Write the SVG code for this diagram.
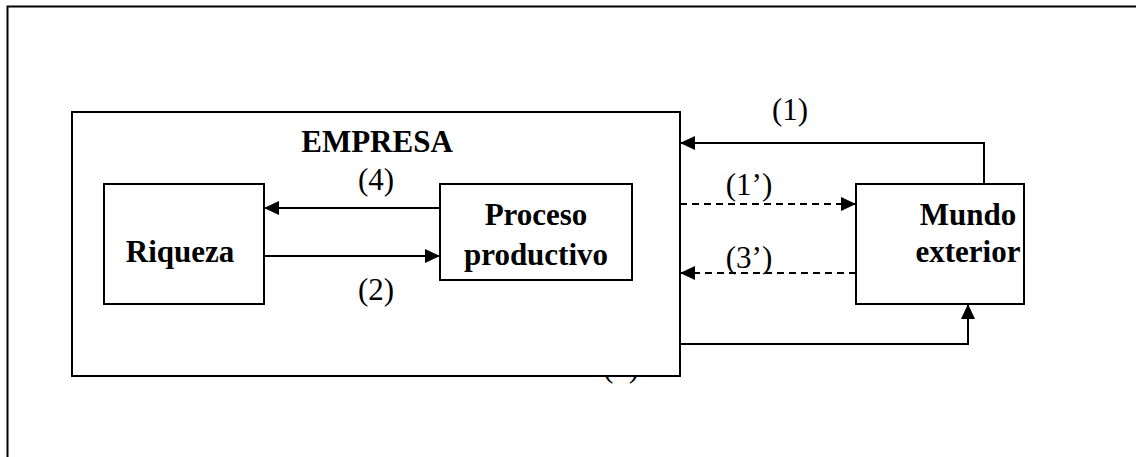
<svg xmlns="http://www.w3.org/2000/svg" width="1136" height="457" viewBox="0 0 1136 457">
  <style>
    .box { fill: #fff; stroke: #000; stroke-width: 2; }
    .frame { fill: none; stroke: #000; stroke-width: 2; }
    .title { font-family: "Liberation Serif", "Times New Roman", serif; font-weight: bold; font-size: 31px; fill: #000; text-anchor: middle; }
    .lbl { font-family: "Liberation Serif", "Times New Roman", serif; font-size: 31px; fill: #000; text-anchor: middle; }
    .link { fill: none; stroke: #000; stroke-width: 2; marker-end: url(#arrow); }
    .dashed { stroke-dasharray: 7 5; }
  </style>
  <defs>
    <marker id="arrow" markerUnits="userSpaceOnUse" markerWidth="15" markerHeight="14" refX="15" refY="7" orient="auto">
      <path d="M0,0 L15,7 L0,14 Z" fill="#000" stroke="none"/>
    </marker>
  </defs>

  <rect width="1136" height="457" fill="#fff"/>
  <!-- page frame, running past the right and bottom edges -->
  <rect class="frame" x="7.5" y="6.5" width="1140" height="470"/>

  <!-- label of flow (3), partly covered by the company box -->
  <text class="lbl" x="621" y="377">(3)</text>

  <g id="empresa">
    <rect class="box" x="72" y="112" width="608" height="264"/>
    <text class="title" x="377" y="152">EMPRESA</text>
  </g>

  <g id="riqueza">
    <rect class="box" x="104" y="184" width="160" height="120"/>
    <text class="title" x="180" y="262">Riqueza</text>
  </g>

  <g id="proceso">
    <rect class="box" x="440" y="184" width="192" height="96"/>
    <text class="title" x="536" y="225">Proceso</text>
    <text class="title" x="536" y="265">productivo</text>
  </g>

  <g id="mundo">
    <rect class="box" x="856" y="184" width="168" height="120"/>
    <text class="title" x="968" y="225">Mundo</text>
    <text class="title" x="968" y="262">exterior</text>
  </g>

  <g id="connectors">
    <path class="link" d="M984,184 V143 H680"/>
    <path class="link dashed" d="M680,204 H856"/>
    <path class="link dashed" d="M856,273 H680"/>
    <path class="link" d="M680,344 H968 V304"/>
    <path class="link" d="M440,208 H264"/>
    <path class="link" d="M264,256 H440"/>
  </g>

  <g id="labels">
    <text class="lbl" x="790" y="120">(1)</text>
    <text class="lbl" x="749" y="195">(1’)</text>
    <text class="lbl" x="749" y="268">(3’)</text>
    <text class="lbl" x="376" y="190">(4)</text>
    <text class="lbl" x="376" y="300">(2)</text>
  </g>
</svg>
